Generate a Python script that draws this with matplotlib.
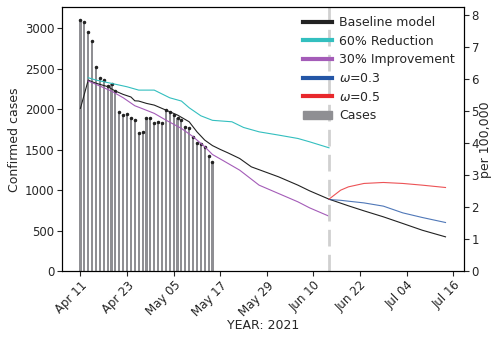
import matplotlib
matplotlib.use('Agg')
import matplotlib.pyplot as plt
from matplotlib.lines import Line2D
from matplotlib.patches import Patch
import numpy as np
import pandas as pd

plt.rcParams.update({
    'font.family': 'DejaVu Sans',
    'font.size': 9,
    'xtick.labelsize': 8.5,
    'ytick.labelsize': 8.5,
    'xtick.major.pad': 2,
    'ytick.major.pad': 2,
    'text.color': '#262626',
    'axes.labelcolor': '#262626',
    'xtick.color': '#262626',
    'ytick.color': '#262626',
})

# daily confirmed cases, Apr 11 - May 15
case_dates = pd.date_range('2021-04-11', '2021-05-15', freq='D')
cases = [3100, 3070, 2955, 2845, 2515, 2385, 2365, 2285, 2310, 2225,
         1965, 1925, 1945, 1893, 1865, 1700, 1718, 1892, 1895, 1832,
         1840, 1832, 1995, 1970, 1928, 1885, 1868, 1774, 1768, 1652,
         1577, 1574, 1535, 1424, 1343]

# model curves
base_dates = ['2021-04-11', '2021-04-13', '2021-04-14', '2021-04-15', '2021-04-18',
              '2021-04-20', '2021-04-22', '2021-04-24', '2021-04-25', '2021-04-26',
              '2021-04-28', '2021-04-30', '2021-05-02', '2021-05-06', '2021-05-09',
              '2021-05-11', '2021-05-13', '2021-05-15', '2021-05-17', '2021-05-19',
              '2021-05-22', '2021-05-25', '2021-06-01', '2021-06-06', '2021-06-09',
              '2021-06-14', '2021-06-19', '2021-06-23', '2021-06-28', '2021-07-03',
              '2021-07-08', '2021-07-14']
baseline = [2010, 2358, 2338, 2320, 2278, 2223, 2182, 2150, 2103, 2100,
            2071, 2050, 2009, 1927, 1844, 1720, 1618, 1550, 1503, 1460,
            1391, 1288, 1165, 1062, 992, 889, 807, 745, 671, 589, 506, 424]

red_dates = ['2021-04-13', '2021-04-15', '2021-04-19', '2021-04-23', '2021-04-26',
             '2021-04-30', '2021-05-04', '2021-05-07', '2021-05-09', '2021-05-12',
             '2021-05-15', '2021-05-20', '2021-05-23', '2021-05-27', '2021-06-01',
             '2021-06-06', '2021-06-09', '2021-06-14']
reduction60 = [2388, 2359, 2318, 2276, 2235, 2235, 2140, 2100, 2017, 1918,
               1862, 1844, 1774, 1720, 1680, 1638, 1597, 1523]

imp_dates = ['2021-04-13', '2021-04-15', '2021-04-19', '2021-04-22', '2021-04-25',
             '2021-04-27', '2021-04-30', '2021-05-03', '2021-05-07', '2021-05-10',
             '2021-05-13', '2021-05-15', '2021-05-18', '2021-05-22', '2021-05-27',
             '2021-06-01', '2021-06-06', '2021-06-09', '2021-06-14']
improve30 = [2347, 2306, 2223, 2141, 2042, 2005, 1948, 1865, 1762, 1660,
             1536, 1440, 1358, 1247, 1062, 959, 856, 782, 679]

omega_dates = ['2021-06-14', '2021-06-17', '2021-06-19', '2021-06-23', '2021-06-28',
               '2021-07-03', '2021-07-08', '2021-07-14']
omega03 = [885, 875, 864, 843, 803, 720, 663, 601]
omega05 = [889, 1000, 1041, 1083, 1095, 1083, 1062, 1033]

split_date = '2021-06-14'
population = 39.6e6

c_base = '#222222'
c_red = '#33bfbf'
c_imp = '#a45cb8'
c_w3 = '#2456a6'
c_w5 = '#e8282c'
c_cases = '#8f8f93'

fig = plt.figure(figsize=(4.92, 3.39), dpi=100)
ax = fig.add_axes([0.126, 0.2, 0.817, 0.778])

ax.bar(case_dates, cases, width=0.55, color=c_cases)
ax.plot(case_dates, cases, '.', color='#222222', markersize=3)

ax.plot(pd.to_datetime(base_dates), baseline, color=c_base, lw=0.8)
ax.plot(pd.to_datetime(red_dates), reduction60, color=c_red, lw=0.8)
ax.plot(pd.to_datetime(imp_dates), improve30, color=c_imp, lw=0.8)
ax.plot(pd.to_datetime(omega_dates), omega03, color=c_w3, lw=0.8, alpha=0.8)
ax.plot(pd.to_datetime(omega_dates), omega05, color=c_w5, lw=0.8, alpha=0.8)
ax.axvline(pd.Timestamp(split_date), color='#d0d0d0', lw=2, ls=(0, (6, 3)))

ax.set_xlim(pd.Timestamp('2021-04-06 06:00'), pd.Timestamp('2021-07-18 18:00'))
ylim = (0, max(cases) * 1.05)
ax.set_ylim(*ylim)
ax.set_yticks(np.arange(0, 3001, 500))
ax.set_ylabel('Confirmed cases', labelpad=3)
ax.set_xlabel('YEAR: 2021', labelpad=0)

ticks = pd.date_range('2021-04-11', '2021-07-16', freq='12D')
ax.set_xticks(ticks)
ax.set_xticklabels([t.strftime('%b %d') for t in ticks], rotation=45,
                   ha='right', rotation_mode='anchor')

ax2 = ax.twinx()
ax2.set_ylim(ylim[0] / population * 1e5, ylim[1] / population * 1e5)
ax2.set_yticks(range(0, 9))
ax2.set_ylabel('per 100,000', labelpad=0)

handles = [
    Line2D([], [], color=c_base, lw=3),
    Line2D([], [], color=c_red, lw=3),
    Line2D([], [], color=c_imp, lw=3),
    Line2D([], [], color=c_w3, lw=3),
    Line2D([], [], color=c_w5, lw=3),
    Patch(color=c_cases),
]
labels = ['Baseline model', '60% Reduction', '30% Improvement',
          r'$\omega$=0.3', r'$\omega$=0.5', 'Cases']
ax2.legend(handles, labels, loc='upper right', frameon=False,
           fontsize=9, handlelength=2.3, handletextpad=0.6,
           labelspacing=0.45, borderaxespad=0.3)

fig.savefig('out.png', dpi=100)
